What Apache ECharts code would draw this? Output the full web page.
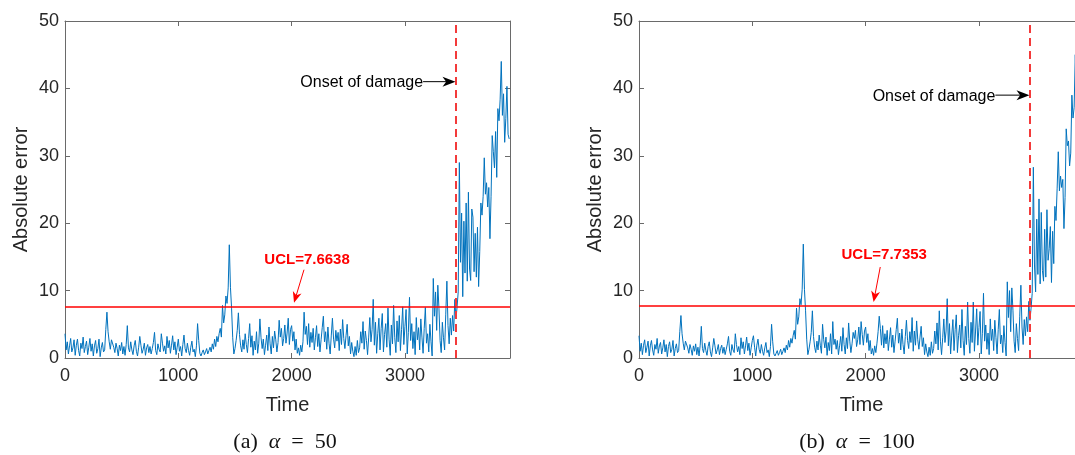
<!DOCTYPE html>
<html>
<head>
<meta charset="utf-8">
<script src="https://cdn.jsdelivr.net/npm/echarts@6/dist/echarts.min.js"></script>
<style>
  html, body { margin: 0; padding: 0; background: #ffffff; }
  #chart { width: 1075px; height: 455px; }
</style>
</head>
<body>
<div id="chart"></div>
<script>
// Sampling step of the absolute-error signals (time units per sample)
const TIME_STEP = 10;
const TIME_MAX = 3927;
const X_TICKS = [0, 1000, 2000, 3000];
const Y_MIN = 0, Y_MAX = 50, Y_INTERVAL = 10;
const ONSET_TIME = 3450;
const UCL_VALUES = [7.6638, 7.7353];
const UCL_LABELS = ['UCL=7.6638', 'UCL=7.7353'];
const ONSET_LABEL = 'Onset of damage';
const X_NAME = 'Time';
const Y_NAME = 'Absolute error';
const PANEL_TAGS = ['(a)', '(b)'];
const ALPHA_VALUES = [50, 100];

// Absolute error, alpha = 50 (one value per TIME_STEP, starting at t = 0)
const errorAlpha50 = [
  3.6, 1.2, 2.4, 0.6, 1.8, 2.9, 0.9, 1.5, 2.7, 0.4,
  1.9, 2.8, 1.1, 0.3, 2.2, 1.4, 3.1, 0.8, 1.7, 2.5,
  0.5, 1.6, 2.9, 1.0, 2.1, 0.3, 1.8, 2.6, 0.7, 1.4,
  2.8, 0.2, 1.5, 2.3, 0.9, 1.2, 4.2, 6.8, 3.9, 2.4,
  1.3, 2.7, 2.9, 1.6, 0.8, 2.2, 1.4, 0.3, 1.9, 1.1,
  2.3, 0.6, 1.7, 0.4, 2.0, 4.8, 1.5, 0.9, 2.4, 1.2,
  0.5, 1.8, 2.6, 1.0, 0.3, 1.6, 3.2, 1.9, 0.7, 1.3,
  2.2, 0.4, 1.5, 2.0, 0.8, 1.7, 0.6, 1.4, 2.3, 3.8,
  1.1, 0.5, 2.1, 1.3, 0.9, 3.6, 2.2, 1.0, 1.8, 0.6,
  3.2, 1.5, 2.6, 0.7, 1.9, 3.3, 1.2, 2.4, 0.5, 1.6,
  2.8, 1.0, 1.7, 0.3, 2.0, 3.4, 1.4, 0.8, 2.2, 1.1,
  0.4, 1.6, 2.5, 0.9, 1.3, 0.2, 1.8, 5.1, 2.6, 0.7,
  0.3, 0.8, 1.2, 0.5, 0.9, 1.4, 0.6, 1.1, 1.6, 0.9,
  2.1, 1.3, 2.8, 1.7, 3.2, 2.4, 3.6, 4.4, 3.1, 7.8,
  5.2, 6.4, 9.2, 8.1, 10.4, 16.8, 10.5, 7.4, 3.0, 0.6,
  1.4, 2.6, 4.1, 6.7, 3.5, 1.8, 0.9, 2.7, 1.3, 3.6,
  2.0, 0.8, 2.9, 5.1, 1.6, 3.3, 0.4, 2.5, 1.2, 3.9,
  0.7, 2.2, 5.8, 3.0, 1.4, 2.8, 0.5, 1.9, 3.4, 1.1,
  4.6, 2.1, 0.6, 3.2, 1.5, 4.0, 2.7, 0.9, 2.3, 5.6,
  3.1, 4.4, 1.8, 2.9, 4.9, 2.2, 3.7, 5.9, 2.0, 4.2,
  4.8, 2.5, 3.9, 1.2, 2.8, 0.7, 1.5, 0.4, 1.9, 0.9,
  2.4, 6.8, 3.5, 4.7, 2.0, 5.1, 1.6, 3.8, 2.3, 4.4,
  1.2, 3.0, 4.8, 1.7, 3.6, 0.9, 2.7, 4.5, 6.2, 2.4,
  3.9, 1.3, 4.6, 2.2, 0.6, 3.4, 5.9, 2.8, 1.5, 4.1,
  2.5, 3.8, 1.1, 4.3, 2.0, 5.7, 2.9, 1.4, 3.3, 5.0,
  1.8, 3.2, 0.6, 2.3, 1.0, 0.2, 1.7, 0.4, 2.6, 0.8,
  1.5, 3.9, 2.2, 5.4, 1.3, 4.0, 2.6, 0.5, 3.1, 6.0,
  2.4, 4.2, 8.7, 1.9, 5.3, 0.7, 3.6, 5.9, 1.2, 4.4,
  6.6, 0.9, 3.5, 5.1, 1.6, 7.4, 2.8, 0.4, 4.9, 2.1,
  7.8, 3.0, 0.8, 5.5, 2.4, 6.3, 1.1, 4.2, 7.6, 2.0,
  4.7, 7.2, 0.6, 3.8, 9.0, 2.6, 5.1, 1.4, 3.9, 0.5,
  6.0, 2.7, 4.5, 1.2, 5.8, 3.1, 0.7, 4.4, 7.5, 2.2,
  3.6, 0.9, 5.0, 2.4, 0.3, 11.8, 6.2, 9.8, 4.1, 10.8,
  7.4, 2.6, 0.8, 5.3, 3.0, 1.2, 6.4, 11.4, 4.8, 2.1,
  5.9, 3.4, 6.3, 4.0, 8.7, 5.8, 7.6, 9.8, 29.0, 14.2,
  21.5, 9.1, 20.3, 12.6, 23.0, 11.4, 24.6, 13.2, 11.5, 22.1,
  20.9, 12.8, 18.5, 12.0, 19.4, 10.6, 15.8, 23.0, 21.2, 24.0,
  29.7, 24.3, 26.0, 22.4, 25.3, 17.7, 24.0, 33.0, 30.6, 28.2,
  33.6, 26.8, 37.0, 35.2, 38.4, 44.0, 36.0, 39.2, 32.0, 35.5,
  40.3, 33.2, 32.5
];

// Absolute error, alpha = 100
const errorAlpha100 = [
  3.3, 1.0, 2.2, 0.5, 1.9, 2.7, 0.8, 1.6, 2.5, 0.3,
  1.8, 2.6, 1.2, 0.4, 2.0, 1.3, 2.9, 0.7, 1.8, 2.3,
  0.6, 1.5, 2.7, 0.9, 2.0, 0.2, 1.7, 2.4, 0.8, 1.3,
  2.6, 0.3, 1.4, 2.1, 0.8, 1.1, 3.9, 6.3, 3.6, 2.2,
  1.2, 2.5, 2.6, 1.5, 0.7, 2.0, 1.3, 0.4, 1.8, 1.0,
  2.1, 0.5, 1.6, 0.3, 1.9, 4.7, 1.4, 0.8, 2.2, 1.1,
  0.4, 1.7, 2.4, 0.9, 0.2, 1.5, 2.9, 1.8, 0.6, 1.2,
  2.0, 0.5, 1.4, 1.9, 0.7, 1.6, 0.5, 1.3, 2.1, 3.2,
  1.0, 0.4, 2.0, 1.2, 0.8, 3.6, 2.0, 0.9, 1.7, 0.5,
  3.0, 1.4, 2.4, 0.6, 1.8, 3.1, 1.1, 2.2, 0.4, 1.5,
  2.6, 3.3, 1.6, 0.3, 1.9, 2.8, 1.3, 0.7, 2.0, 1.0,
  0.4, 1.5, 2.3, 0.8, 1.2, 0.2, 1.7, 5.0, 2.4, 0.6,
  0.3, 0.7, 1.1, 0.4, 0.8, 1.3, 0.5, 1.0, 1.5, 0.8,
  1.9, 1.2, 2.6, 1.6, 2.9, 2.2, 3.3, 4.1, 2.8, 7.4,
  5.0, 6.1, 8.8, 7.9, 10.2, 16.9, 10.2, 7.0, 2.8, 0.5,
  1.3, 2.4, 3.8, 7.0, 3.2, 1.6, 0.8, 2.5, 1.2, 3.4,
  1.9, 0.7, 5.0, 2.7, 1.5, 3.1, 0.4, 2.3, 1.1, 3.6,
  0.6, 5.4, 2.0, 2.8, 1.3, 2.6, 0.5, 1.8, 3.2, 1.0,
  4.5, 2.0, 0.6, 3.0, 1.4, 5.2, 2.5, 0.8, 2.1, 3.8,
  2.9, 4.1, 1.7, 2.7, 4.6, 2.0, 5.4, 3.5, 1.9, 4.0,
  4.6, 2.3, 3.6, 1.1, 2.6, 0.6, 1.4, 0.4, 1.8, 0.8,
  2.2, 3.9, 6.2, 4.4, 1.9, 4.8, 1.5, 3.6, 2.1, 4.1,
  1.1, 2.8, 4.5, 1.6, 3.4, 0.8, 2.5, 4.2, 5.9, 2.2,
  3.7, 1.2, 4.3, 2.0, 0.6, 3.2, 5.6, 2.6, 1.4, 3.9,
  2.3, 6.0, 1.0, 4.0, 1.9, 5.5, 2.7, 1.3, 3.1, 4.7,
  1.7, 3.0, 0.5, 2.1, 0.9, 0.2, 1.6, 0.4, 2.4, 0.7,
  1.4, 4.0, 2.1, 5.2, 1.2, 7.0, 2.5, 0.5, 3.0, 5.8,
  2.3, 4.0, 8.8, 1.8, 5.1, 0.6, 3.4, 5.7, 1.1, 4.2,
  6.4, 0.8, 3.3, 4.9, 1.5, 7.2, 2.6, 0.4, 4.7, 2.0,
  8.3, 2.9, 0.7, 5.3, 2.3, 8.3, 1.0, 4.0, 7.3, 1.9,
  4.5, 6.9, 0.6, 3.6, 9.6, 2.5, 4.9, 1.3, 3.7, 0.5,
  5.8, 2.6, 4.3, 1.1, 5.6, 3.0, 0.6, 4.2, 7.2, 2.1,
  3.4, 0.8, 4.8, 2.3, 0.3, 11.3, 6.0, 10.0, 3.9, 10.4,
  7.1, 2.5, 0.8, 5.1, 2.9, 1.1, 6.2, 10.8, 4.6, 2.0,
  5.7, 3.3, 6.1, 3.9, 8.4, 5.6, 7.4, 9.6, 28.3, 13.8,
  9.8, 20.6, 12.4, 23.6, 11.0, 21.6, 13.0, 11.4, 19.1, 12.0,
  22.0, 14.5, 16.2, 19.5, 11.2, 18.8, 14.0, 22.5, 20.4, 25.2,
  30.6, 24.8, 27.0, 25.3, 26.5, 19.2, 23.8, 34.0, 31.5, 32.2,
  28.5, 30.4, 39.0, 35.6, 37.2, 45.0, 39.5, 41.0, 36.8, 42.0,
  44.5, 40.1, 43.0
];

// Annotation anchors in data units: [time, error]
const ONSET_ARROW_FROM = [[3160, 41.0], [3145, 39.0]];
const ONSET_ARROW_TO = [[3446, 41.0], [3446, 39.0]];
const UCL_TEXT_AT = [[2136, 14.5], [2164, 15.3]];
const UCL_ARROW_FROM = [[2109, 13.1], [2129, 13.5]];
const UCL_ARROW_TO = [[2021, 8.2], [2070, 8.3]];

const SERIES = [errorAlpha50, errorAlpha100];

const FONT = '"Liberation Sans", Arial, Helvetica, sans-serif';
const SERIF = '"Liberation Serif", "DejaVu Serif", serif';
const AXIS_COLOR = '#6a6a6a';
const TEXT_COLOR = '#262626';
const LINE_BLUE = '#0072bd';
const RED = '#ff0000';

// Both panels share the same frame size; the second one runs past the right edge of the page
const grids = [
  { left: 65, top: 21, width: 445, height: 337, outerBoundsMode: 'none', containLabel: false },
  { left: 639, top: 21, width: 445, height: 337, outerBoundsMode: 'none', containLabel: false }
];
const CAPTION_CENTERS = [280, 852];

const chart = echarts.init(document.getElementById('chart'), null, { renderer: 'canvas' });

const xAxes = [], yAxes = [], series = [], titles = [];
grids.forEach((g, i) => {
  const tickStyle = { show: true, inside: true, length: 5, lineStyle: { color: AXIS_COLOR, width: 1 }, customValues: X_TICKS };
  // bottom axis with labels
  xAxes.push({
    type: 'value', gridIndex: i, position: 'bottom', min: 0, max: TIME_MAX, interval: 1000,
    name: X_NAME, nameLocation: 'middle', nameGap: 37,
    nameTextStyle: { fontFamily: FONT, fontSize: 20, color: TEXT_COLOR },
    axisLine: { show: true, onZero: false, lineStyle: { color: AXIS_COLOR, width: 1 } },
    axisTick: tickStyle,
    axisLabel: { show: true, customValues: X_TICKS, margin: 9, fontFamily: FONT, fontSize: 18, color: TEXT_COLOR,
      formatter: v => (X_TICKS.indexOf(v) >= 0 ? String(v) : '') },
    splitLine: { show: false }
  });
  // top frame with inward ticks
  xAxes.push({
    type: 'value', gridIndex: i, position: 'top', min: 0, max: TIME_MAX, interval: 1000,
    axisLine: { show: true, onZero: false, lineStyle: { color: AXIS_COLOR, width: 1 } },
    axisTick: tickStyle,
    axisLabel: { show: false },
    splitLine: { show: false }
  });
  const yTick = { show: true, inside: true, length: 5, lineStyle: { color: AXIS_COLOR, width: 1 } };
  yAxes.push({
    type: 'value', gridIndex: i, position: 'left', min: Y_MIN, max: Y_MAX, interval: Y_INTERVAL,
    name: Y_NAME, nameLocation: 'middle', nameGap: 34,
    nameTextStyle: { fontFamily: FONT, fontSize: 20, color: TEXT_COLOR },
    axisLine: { show: true, onZero: false, lineStyle: { color: AXIS_COLOR, width: 1 } },
    axisTick: yTick,
    axisLabel: { show: true, margin: 6, fontFamily: FONT, fontSize: 18, color: TEXT_COLOR },
    splitLine: { show: false }
  });
  yAxes.push({
    type: 'value', gridIndex: i, position: 'right', min: Y_MIN, max: Y_MAX, interval: Y_INTERVAL,
    axisLine: { show: true, onZero: false, lineStyle: { color: AXIS_COLOR, width: 1 } },
    axisTick: yTick,
    axisLabel: { show: false },
    splitLine: { show: false }
  });

  series.push({
    type: 'line',
    xAxisIndex: i * 2, yAxisIndex: i * 2,
    data: SERIES[i].map((v, k) => [k * TIME_STEP, v]),
    showSymbol: false, symbol: 'none', silent: true, animation: false,
    clip: true,
    lineStyle: { color: LINE_BLUE, width: 1 },
    z: 3,
    markLine: {
      silent: true, symbol: 'none', animation: false,
      label: { show: false },
      data: [
        { yAxis: UCL_VALUES[i], lineStyle: { color: RED, width: 1.5, type: 'solid' } },
        { xAxis: ONSET_TIME, lineStyle: { color: '#f33a3a', width: 2, type: [8, 5] } }
      ]
    }
  });

  // Panel caption, e.g. "(a) α = 50", with math-style spacing around "="
  titles.push({
    text: '{n|' + PANEL_TAGS[i] + '  }{g|α}{n|  =  ' + ALPHA_VALUES[i] + '}',
    left: CAPTION_CENTERS[i], top: 426, textAlign: 'center',
    textStyle: {
      fontWeight: 'normal',
      rich: {
        n: { fontFamily: SERIF, fontSize: 22, fontWeight: 'normal', color: '#111111' },
        g: { fontFamily: SERIF, fontSize: 22, fontWeight: 'normal', fontStyle: 'italic', color: '#111111' }
      }
    }
  });
});

chart.setOption({
  animation: false,
  backgroundColor: '#ffffff',
  title: titles,
  grid: grids,
  xAxis: xAxes,
  yAxis: yAxes,
  series: series
});

// Arrow with a notched ("vback") head
function arrowShapes(p0, p1, color, headLen, headHalf, lineW) {
  const dx = p1[0] - p0[0], dy = p1[1] - p0[1];
  const L = Math.sqrt(dx * dx + dy * dy);
  const ux = dx / L, uy = dy / L, nx = -uy, ny = ux;
  const bx = p1[0] - ux * headLen, by = p1[1] - uy * headLen;
  const notch = [p1[0] - ux * headLen * 0.72, p1[1] - uy * headLen * 0.72];
  return [
    { type: 'line', silent: true, z: 10,
      shape: { x1: p0[0], y1: p0[1], x2: notch[0], y2: notch[1] },
      style: { stroke: color, lineWidth: lineW } },
    { type: 'polygon', silent: true, z: 10,
      shape: { points: [p1, [bx + nx * headHalf, by + ny * headHalf], notch, [bx - nx * headHalf, by - ny * headHalf]] },
      style: { fill: color, stroke: null } }
  ];
}

const graphics = [];
grids.forEach((g, i) => {
  const finder = { xAxisIndex: i * 2, yAxisIndex: i * 2 };
  const px = p => chart.convertToPixel(finder, p);

  const oFrom = px(ONSET_ARROW_FROM[i]), oTo = px(ONSET_ARROW_TO[i]);
  graphics.push(...arrowShapes(oFrom, oTo, '#000000', 13, 5, 1));
  graphics.push({
    type: 'text', silent: true, z: 10,
    style: { text: ONSET_LABEL, x: oFrom[0], y: oFrom[1] + 1, align: 'right', verticalAlign: 'middle',
      fontFamily: FONT, fontSize: 16, fill: '#000000' }
  });

  const uText = px(UCL_TEXT_AT[i]), uFrom = px(UCL_ARROW_FROM[i]), uTo = px(UCL_ARROW_TO[i]);
  graphics.push(...arrowShapes(uFrom, uTo, RED, 11, 4.5, 1));
  graphics.push({
    type: 'text', silent: true, z: 10,
    style: { text: UCL_LABELS[i], x: uText[0], y: uText[1], align: 'center', verticalAlign: 'middle',
      fontFamily: FONT, fontSize: 15, fontWeight: 'bold', fill: RED }
  });
});

chart.setOption({ graphic: graphics });
</script>
</body>
</html>
